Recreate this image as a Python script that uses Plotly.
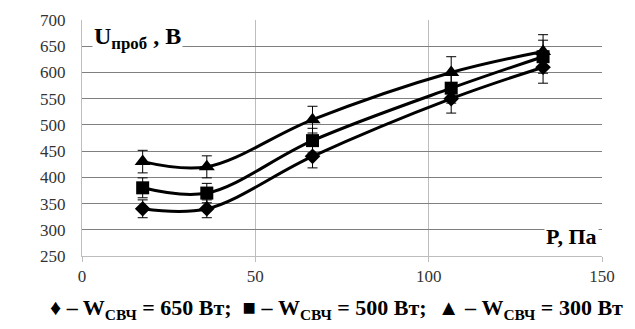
import plotly.graph_objects as go

pressure = [17.5, 36, 66.5, 106.5, 133]
u_650 = [340, 340, 440, 550, 610]
u_500 = [380, 370, 470, 570, 630]
u_300 = [430, 420, 510, 600, 640]
err_pct = 5

series = [
    (u_650, "diamond", 12),
    (u_500, "square", 13),
    (u_300, "triangle-up", 14),
]

SERIF = "'Liberation Serif', 'Times New Roman', serif"

fig = go.Figure()
for vals, sym, sz in series:
    fig.add_trace(go.Scatter(
        x=pressure, y=vals, mode="lines+markers",
        line=dict(color="black", width=3, shape="spline", smoothing=1.0),
        marker=dict(symbol=sym, size=sz, color="black"),
        error_y=dict(type="percent", value=err_pct, color="black", thickness=1, width=5),
        showlegend=False,
    ))

fig.update_xaxes(range=[0, 150], tickvals=[0, 50, 100, 150], showgrid=True,
                 gridcolor="#bdbdbd", gridwidth=1, zeroline=False,
                 showline=True, linecolor="#bdbdbd", ticks="outside", tickcolor="#bdbdbd",
                 ticklen=5, tickfont=dict(family=SERIF, size=17, color="#333"))
fig.update_yaxes(range=[250, 700], dtick=50, showgrid=True, gridcolor="#808080",
                 gridwidth=1, zeroline=False, showline=True, linecolor="#bdbdbd",
                 ticks="", ticklabelstandoff=12,
                 tickfont=dict(family=SERIF, size=17, color="#333"))

fig.add_annotation(xref="paper", yref="paper", x=0.02, y=0.995, xanchor="left", yanchor="top",
                   text="<b>U<sub>проб</sub> , В</b>", showarrow=False, bgcolor="white",
                   font=dict(family=SERIF, size=24, color="black"))
fig.add_annotation(xref="paper", yref="paper", x=0.995, y=0.02, xanchor="right", yanchor="bottom",
                   text="<b>P, Па</b>", showarrow=False, bgcolor="white",
                   font=dict(family=SERIF, size=22, color="black"))
fig.add_annotation(xref="paper", yref="paper", x=0.49, y=-0.225, xanchor="center", yanchor="middle",
                   text="<b>♦ – W<sub>СВЧ</sub> = 650 Вт;  ■ – W<sub>СВЧ</sub> = 500 Вт;  ▲ – W<sub>СВЧ</sub> = 300 Вт</b>",
                   showarrow=False, font=dict(family=SERIF, size=22, color="black"))

fig.update_layout(width=635, height=329, margin=dict(l=82, r=33, t=20, b=73),
                  paper_bgcolor="white", plot_bgcolor="white")
fig.write_html("out.html")
